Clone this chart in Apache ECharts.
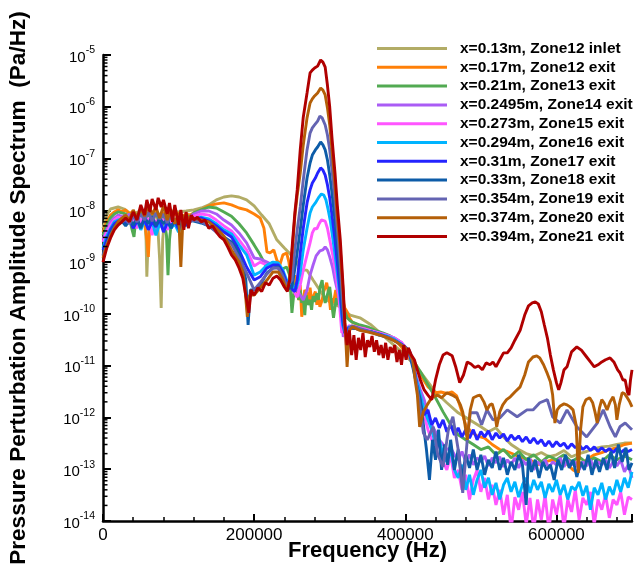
<!DOCTYPE html>
<html>
<head>
<meta charset="utf-8">
<script src="https://cdn.jsdelivr.net/npm/echarts@6/dist/echarts.min.js"></script>
<style>
  html, body { margin: 0; padding: 0; background: #fff; }
  #chart { width: 638px; height: 565px; }
</style>
</head>
<body>
<div id="chart"></div>
<script>
// Pressure perturbation amplitude spectra, [frequency in kHz, amplitude in Pa/Hz]
const zone12Inlet = [[0,4.5e-9],[5,8.1e-9],[10,1.06e-8],[20,1.16e-8],[28,1.06e-8],[35,8.9e-9],[38,6.0e-9],[40,3.8e-9],[42,7.1e-9],[45,9.3e-9],[50,8.9e-9],[55,7.1e-9],[57,2.7e-9],[58,5.2e-10],[60,3.3e-9],[63,8.1e-9],[68,9.3e-9],[72,6.5e-9],[75,1.1e-9],[77,1.3e-10],[79,2.7e-9],[82,8.5e-9],[90,9.7e-9],[100,9.3e-9],[110,9.7e-9],[120,1.02e-8],[130,1.11e-8],[140,1.27e-8],[150,1.59e-8],[160,1.81e-8],[170,1.9e-8],[180,1.81e-8],[190,1.59e-8],[200,1.22e-8],[210,8.1e-9],[220,5.5e-9],[230,2.7e-9],[240,1.88e-9],[250,1.32e-9],[255,1.1e-9],[262,7.0e-10],[270,7.0e-10],[278,4.5e-10],[288,2.7e-10],[296,1.86e-10],[305,1.56e-10],[314,1.37e-10],[327,9.5e-11],[340,8.4e-11],[355,6.1e-11],[370,3.9e-11],[385,2.5e-11],[400,1.6e-11],[420,7.6e-12],[440,3.1e-12],[455,1.92e-12],[470,1.23e-12],[485,9.0e-13],[500,6.6e-13],[510,5.3e-13],[520,6.3e-13],[530,4.2e-13],[540,3.0e-13],[550,2.4e-13],[560,2.0e-13],[570,1.8e-13],[580,2.1e-13],[590,1.74e-13],[600,1.9e-13],[610,2.3e-13],[620,1.74e-13],[630,2.0e-13],[640,2.2e-13],[650,2.5e-13],[660,2.7e-13],[670,2.8e-13],[680,3.0e-13],[690,3.2e-13],[700,3.2e-13]];

const zone12Exit = [[0,3.8e-9],[5,6.0e-9],[10,8.1e-9],[15,9.3e-9],[20,1.02e-8],[25,9.3e-9],[30,1.02e-8],[35,8.5e-9],[40,9.7e-9],[45,7.7e-9],[50,8.9e-9],[55,7.1e-9],[58,2.7e-9],[60,1.26e-9],[62,5.2e-9],[65,8.5e-9],[70,9.3e-9],[75,8.1e-9],[80,8.9e-9],[85,7.7e-9],[90,9.3e-9],[95,8.1e-9],[100,8.9e-9],[105,7.7e-9],[110,8.5e-9],[115,8.1e-9],[120,8.9e-9],[130,1.02e-8],[140,1.22e-8],[150,1.33e-8],[160,1.39e-8],[170,1.27e-8],[180,1.11e-8],[190,1.02e-8],[200,8.5e-9],[208,7.1e-9],[213,4.5e-9],[217,1.57e-9],[221,1.5e-9],[226,1.72e-9],[230,1.1e-9],[234,8.8e-10],[238,1.38e-9],[243,1.5e-9],[246,1.0e-9],[249,4.5e-10],[251,3.3e-10],[254,5.6e-10],[257,2.5e-10],[259,1.86e-10],[261,3.6e-10],[263,8.8e-11],[265,1.86e-10],[267,2.9e-10],[270,2.5e-10],[272,1.5e-10],[274,3.2e-10],[276,1.86e-10],[278,2.1e-10],[281,2.7e-10],[283,1.5e-10],[285,2.3e-10],[287,1.37e-10],[290,1.86e-10],[292,2.7e-10],[294,3.2e-10],[296,4.0e-10],[299,2.3e-10],[301,1.2e-10],[303,2.0e-10],[305,1.63e-10],[308,2.9e-10],[310,2.0e-10],[312,2.7e-10],[314,2.5e-10],[317,1.86e-10],[320,1.3e-10],[323,1.1e-10],[326,8.4e-11],[330,6.9e-11],[340,5.9e-11],[350,5.4e-11],[360,4.7e-11],[370,4.1e-11],[380,3.6e-11],[390,2.8e-11],[400,1.85e-11],[410,1.14e-11],[420,6.6e-12],[430,3.9e-12],[440,3.0e-12],[447,3.1e-12],[455,2.9e-12],[462,3.1e-12],[468,2.6e-12],[474,1.4e-12],[480,7.2e-13],[487,5.3e-13],[495,4.4e-13],[505,4.0e-13],[515,3.0e-13],[525,2.4e-13],[535,2.2e-13],[545,1.9e-13],[555,1.66e-13],[565,1.52e-13],[575,1.22e-13],[585,1.39e-13],[595,1.52e-13],[605,1.39e-13],[615,1.22e-13],[622,9.7e-14],[627,8.9e-14],[632,1.22e-13],[640,1.52e-13],[650,1.9e-13],[660,2.1e-13],[670,2.4e-13],[680,2.6e-13],[690,3.0e-13],[700,3.2e-13]];

const zone13Exit = [[0,3.3e-9],[5,5.2e-9],[10,7.1e-9],[15,8.5e-9],[20,9.3e-9],[25,8.9e-9],[30,8.5e-9],[35,7.1e-9],[38,4.5e-9],[41,3.06e-9],[44,8.1e-9],[50,8.9e-9],[55,6.5e-9],[60,8.1e-9],[65,7.1e-9],[70,8.5e-9],[75,6.5e-9],[80,7.7e-9],[84,3.3e-9],[86,5.6e-10],[88,2.7e-9],[91,7.1e-9],[95,6.0e-9],[100,7.7e-9],[105,7.1e-9],[110,8.1e-9],[115,7.4e-9],[120,8.9e-9],[130,1.02e-8],[140,1.16e-8],[150,1.11e-8],[160,9.3e-9],[170,7.7e-9],[180,5.5e-9],[190,3.66e-9],[200,2.15e-9],[208,1.38e-9],[217,7.7e-10],[225,1.0e-9],[234,7.0e-10],[243,8.05e-10],[247,5.6e-10],[250,1.05e-10],[253,2.9e-10],[255,4.0e-10],[257,3.3e-10],[259,1.86e-10],[261,2.9e-10],[263,1.63e-10],[265,2.1e-10],[267,9.5e-11],[269,2.3e-10],[271,1.5e-10],[274,1.86e-10],[276,1.2e-10],[278,2.2e-10],[280,1.7e-10],[283,2.5e-10],[285,1.86e-10],[287,3.2e-10],[290,4.5e-10],[292,2.3e-10],[294,1.63e-10],[296,1.63e-10],[298,2.7e-10],[300,3.3e-10],[302,1.86e-10],[305,8.4e-11],[307,1.37e-10],[309,2.0e-10],[311,1.5e-10],[314,2.1e-10],[317,1.5e-10],[320,1.1e-10],[323,8.4e-11],[326,7.6e-11],[330,6.9e-11],[340,6.1e-11],[350,5.6e-11],[360,4.8e-11],[370,4.3e-11],[380,3.75e-11],[390,3.1e-11],[400,2.2e-11],[410,1.3e-11],[420,7.6e-12],[430,4.3e-12],[440,2.4e-12],[450,1.28e-12],[460,7.2e-13],[470,4.6e-13],[480,3.7e-13],[490,3.0e-13],[500,2.4e-13],[510,2.7e-13],[520,1.9e-13],[530,2.4e-13],[540,1.66e-13],[550,2.2e-13],[560,1.52e-13],[570,1.9e-13],[580,1.39e-13],[590,1.8e-13],[600,1.52e-13],[610,1.9e-13],[620,1.39e-13],[630,1.74e-13],[640,1.33e-13],[650,1.66e-13],[660,1.39e-13],[670,1.9e-13],[680,1.52e-13],[690,1.8e-13],[700,1.52e-13]];

const zone14Exit = [[0,2.7e-9],[5,4.2e-9],[10,6.0e-9],[15,7.1e-9],[20,8.1e-9],[25,7.7e-9],[30,7.1e-9],[35,8.5e-9],[40,6.5e-9],[45,7.7e-9],[50,6.0e-9],[55,7.4e-9],[60,5.2e-9],[65,7.1e-9],[70,3.8e-9],[75,6.5e-9],[80,6.0e-9],[85,7.1e-9],[90,5.0e-9],[95,6.5e-9],[100,6.0e-9],[105,7.1e-9],[110,6.2e-9],[115,7.4e-9],[120,8.5e-9],[130,9.7e-9],[140,9.7e-9],[150,8.5e-9],[160,6.5e-9],[170,5.2e-9],[180,3.66e-9],[190,2.35e-9],[200,1.2e-9],[208,1.15e-9],[217,1.0e-9],[225,8.8e-10],[232,8.4e-10],[238,6.45e-10],[243,4.1e-10],[248,3.6e-10],[252,2.9e-10],[257,2.9e-10],[261,2.3e-10],[265,1.86e-10],[270,2.9e-10],[274,5.6e-10],[278,8.8e-10],[282,1.32e-9],[287,1.65e-9],[291,1.72e-9],[294,1.97e-9],[297,1.72e-9],[300,1.26e-9],[304,7.7e-10],[307,4.5e-10],[311,2.5e-10],[314,1.5e-10],[318,3.6e-11],[321,4.8e-11],[325,5.4e-11],[335,5.4e-11],[345,5.2e-11],[355,4.7e-11],[365,4.3e-11],[375,3.9e-11],[385,3.45e-11],[395,2.8e-11],[405,1.6e-11],[410,1.04e-11],[415,5.8e-12],[420,3.4e-12],[425,2.2e-12],[430,1.12e-12],[435,7.2e-13],[440,5.3e-13],[445,3.7e-13],[450,3.0e-13],[455,2.4e-13],[460,2.6e-13],[465,1.9e-13],[470,1.52e-13],[475,2.2e-13],[480,1.39e-13],[485,1.9e-13],[490,1.22e-13],[495,1.66e-13],[500,1.39e-13],[505,1.8e-13],[510,1.16e-13],[515,1.66e-13],[520,1.33e-13],[525,1.74e-13],[530,1.11e-13],[535,1.52e-13],[540,1.22e-13],[545,1.66e-13],[550,1.06e-13],[555,1.52e-13],[560,1.22e-13],[565,1.59e-13],[570,9.7e-14],[575,1.39e-13],[580,1.16e-13],[585,1.52e-13],[590,1.06e-13],[595,1.39e-13],[600,1.22e-13],[605,1.66e-13],[610,1.11e-13],[615,1.52e-13],[620,1.22e-13],[625,1.39e-13],[630,9.7e-14],[635,1.39e-13],[640,1.16e-13],[645,1.52e-13],[650,1.06e-13],[655,1.39e-13],[660,1.22e-13],[665,1.52e-13],[670,1.06e-13],[675,1.39e-13],[680,1.16e-13],[685,1.52e-13],[690,8.9e-14],[695,1.22e-13],[700,6.8e-14]];

const zone15Exit = [[0,2.45e-9],[5,3.8e-9],[10,5.2e-9],[15,6.5e-9],[20,7.4e-9],[25,7.1e-9],[30,8.1e-9],[35,6.0e-9],[40,7.4e-9],[45,4.5e-9],[50,6.8e-9],[55,5.5e-9],[60,7.1e-9],[65,3.3e-9],[70,6.5e-9],[75,5.0e-9],[80,6.8e-9],[85,4.2e-9],[90,6.2e-9],[95,5.2e-9],[100,6.5e-9],[105,5.5e-9],[110,7.1e-9],[115,6.5e-9],[120,7.7e-9],[130,8.5e-9],[140,8.1e-9],[150,6.5e-9],[160,5.0e-9],[170,4.0e-9],[180,2.7e-9],[190,1.72e-9],[200,8.4e-10],[208,1.0e-9],[217,8.8e-10],[225,8.05e-10],[232,7.7e-10],[238,6.2e-10],[243,4.1e-10],[247,3.6e-10],[251,3.6e-10],[254,2.5e-10],[257,2.1e-10],[261,3.6e-10],[265,7.0e-10],[270,1.38e-9],[274,2.35e-9],[277,3.66e-9],[280,4.5e-9],[283,4.37e-9],[286,5.5e-9],[289,6.5e-9],[291,6.8e-9],[294,6.2e-9],[297,4.5e-9],[300,2.7e-9],[304,1.38e-9],[308,6.2e-10],[312,2.3e-10],[316,4.3e-11],[319,5.4e-11],[322,2.5e-11],[325,5.9e-11],[335,5.6e-11],[345,5.2e-11],[355,4.7e-11],[365,4.3e-11],[375,3.9e-11],[385,3.45e-11],[395,2.8e-11],[405,1.85e-11],[410,1.04e-11],[415,5.3e-12],[420,2.2e-12],[425,1.12e-12],[430,5.8e-13],[435,3.7e-13],[440,2.4e-13],[445,3.0e-13],[450,1.39e-13],[455,9.7e-14],[460,1.9e-13],[465,6.8e-14],[470,9.7e-14],[475,4.0e-14],[480,7.8e-14],[485,2.6e-14],[490,6.2e-14],[495,9.7e-14],[500,3.66e-14],[505,6.8e-14],[510,2.6e-14],[515,5.0e-14],[520,2.05e-14],[525,4.0e-14],[530,1.32e-14],[535,3.2e-14],[540,6.7e-15],[545,2.9e-14],[550,1.65e-14],[555,3.66e-14],[560,8.4e-15],[565,2.8e-14],[570,6.7e-15],[575,2.6e-14],[580,1.05e-14],[585,3.2e-14],[590,6.7e-15],[595,2.6e-14],[600,1.32e-14],[605,3.2e-14],[610,7.3e-15],[615,2.6e-14],[620,1.5e-14],[625,4.0e-14],[630,1.05e-14],[635,2.8e-14],[640,2.05e-14],[645,3.66e-14],[650,8.4e-15],[655,2.6e-14],[660,1.65e-14],[665,3.2e-14],[670,1.15e-14],[675,2.6e-14],[680,2.05e-14],[685,3.66e-14],[690,1.32e-14],[695,2.9e-14],[700,2.6e-14]];

const zone16Exit = [[0,1.88e-9],[5,3.2e-9],[10,4.5e-9],[15,6.0e-9],[20,6.5e-9],[25,6.8e-9],[30,6.0e-9],[35,7.1e-9],[40,5.0e-9],[45,6.5e-9],[50,4.2e-9],[55,6.2e-9],[60,4.5e-9],[65,6.0e-9],[70,3.3e-9],[75,5.5e-9],[80,4.2e-9],[85,6.0e-9],[90,4.5e-9],[95,5.5e-9],[100,3.8e-9],[105,5.7e-9],[110,5.0e-9],[115,6.2e-9],[120,6.8e-9],[130,7.4e-9],[140,6.8e-9],[150,5.5e-9],[160,4.2e-9],[170,3.5e-9],[180,2.15e-9],[190,1.38e-9],[200,5.6e-10],[208,6.45e-10],[217,8.8e-10],[225,1.0e-9],[232,9.6e-10],[238,7.0e-10],[243,4.5e-10],[247,4.1e-10],[251,3.6e-10],[254,2.9e-10],[257,3.6e-10],[261,6.2e-10],[265,1.72e-9],[270,4.5e-9],[274,8.9e-9],[277,1.16e-8],[281,1.39e-8],[285,1.74e-8],[289,2.07e-8],[292,1.98e-8],[295,1.59e-8],[298,1.02e-8],[301,6.0e-9],[304,2.93e-9],[307,1.38e-9],[310,6.2e-10],[314,1.86e-10],[317,6.1e-11],[320,4.3e-11],[325,5.6e-11],[335,5.4e-11],[345,4.8e-11],[355,4.5e-11],[365,4.1e-11],[375,3.75e-11],[385,3.3e-11],[395,2.6e-11],[405,1.85e-11],[410,1.04e-11],[415,5.3e-12],[420,2.7e-12],[425,1.4e-12],[430,9.0e-13],[435,5.8e-13],[440,3.0e-13],[445,3.7e-13],[450,1.9e-13],[455,1.39e-13],[460,2.4e-13],[465,9.7e-14],[470,6.8e-14],[475,1.22e-13],[480,4.0e-14],[485,7.8e-14],[490,3.2e-14],[495,6.2e-14],[500,9.7e-14],[505,4.4e-14],[510,6.8e-14],[515,3.2e-14],[520,5.45e-14],[525,2.6e-14],[530,5.0e-14],[535,6.8e-14],[540,3.66e-14],[545,5.7e-14],[550,2.9e-14],[555,5.0e-14],[560,6.8e-14],[565,3.5e-14],[570,6.2e-14],[575,4.0e-14],[580,5.7e-14],[585,2.8e-14],[590,5.2e-14],[595,3.66e-14],[600,6.2e-14],[605,3.2e-14],[610,5.0e-14],[615,2.6e-14],[620,4.6e-14],[625,4.0e-14],[630,5.7e-14],[635,3.06e-14],[640,4.8e-14],[645,1.65e-14],[650,4.4e-14],[655,3.2e-14],[660,5.45e-14],[665,2.6e-14],[670,4.6e-14],[675,3.2e-14],[680,6.2e-14],[685,3.66e-14],[690,6.8e-14],[695,4.4e-14],[700,8.9e-14]];

const zone17Exit = [[0,1.72e-9],[5,2.7e-9],[10,4.2e-9],[15,5.5e-9],[20,6.2e-9],[25,6.5e-9],[30,5.5e-9],[35,6.8e-9],[40,4.5e-9],[45,6.2e-9],[50,5.0e-9],[55,6.5e-9],[60,4.2e-9],[65,6.0e-9],[70,4.77e-9],[75,6.8e-9],[80,3.8e-9],[85,5.7e-9],[90,5.0e-9],[95,6.2e-9],[100,4.37e-9],[105,6.0e-9],[110,5.2e-9],[115,6.5e-9],[120,6.8e-9],[130,7.1e-9],[140,6.2e-9],[150,5.0e-9],[160,3.8e-9],[170,3.06e-9],[180,1.72e-9],[190,8.05e-10],[200,4.5e-10],[208,5.2e-10],[217,7.7e-10],[225,8.8e-10],[232,8.8e-10],[238,6.45e-10],[243,4.0e-10],[247,3.47e-10],[251,2.9e-10],[254,2.7e-10],[257,4.5e-10],[261,1.5e-9],[265,4.5e-9],[270,1.39e-8],[274,2.48e-8],[277,3.38e-8],[281,4.2e-8],[284,5.26e-8],[288,6.6e-8],[291,6.0e-8],[294,4.8e-8],[297,3.1e-8],[300,1.74e-8],[303,8.1e-9],[307,2.7e-9],[310,1.0e-9],[314,2.5e-10],[317,7.6e-11],[320,4.3e-11],[325,5.4e-11],[335,5.2e-11],[345,4.8e-11],[355,4.5e-11],[365,4.1e-11],[375,3.6e-11],[385,3.1e-11],[395,2.6e-11],[405,2.0e-11],[410,1.3e-11],[415,4.3e-12],[420,1.75e-12],[425,1.12e-12],[430,1.4e-12],[435,7.2e-13],[440,9.8e-13],[445,6.3e-13],[450,9.0e-13],[455,5.3e-13],[460,7.2e-13],[465,4.6e-13],[470,6.3e-13],[475,4.2e-13],[480,5.8e-13],[485,4.0e-13],[490,5.8e-13],[495,3.7e-13],[500,5.3e-13],[505,4.2e-13],[510,5.5e-13],[515,3.7e-13],[520,5.0e-13],[525,4.0e-13],[530,4.8e-13],[535,3.5e-13],[540,4.6e-13],[545,3.7e-13],[550,4.4e-13],[555,3.4e-13],[560,4.2e-13],[565,3.2e-13],[570,4.0e-13],[575,3.1e-13],[580,3.7e-13],[585,2.8e-13],[590,3.5e-13],[595,2.7e-13],[600,3.4e-13],[605,2.8e-13],[610,3.2e-13],[615,2.5e-13],[620,3.1e-13],[625,2.6e-13],[630,3.0e-13],[635,2.4e-13],[640,2.8e-13],[645,2.3e-13],[650,2.7e-13],[655,2.2e-13],[660,2.6e-13],[665,2.2e-13],[670,2.5e-13],[675,2.1e-13],[680,2.5e-13],[685,2.1e-13],[690,2.4e-13],[695,2.2e-13],[700,2.4e-13]];

const zone18Exit = [[0,1.38e-9],[5,2.35e-9],[10,3.66e-9],[15,5.0e-9],[20,5.7e-9],[25,6.2e-9],[30,5.0e-9],[35,6.5e-9],[40,5.2e-9],[45,7.1e-9],[50,4.5e-9],[55,7.4e-9],[60,5.5e-9],[65,7.7e-9],[70,5.0e-9],[75,7.1e-9],[80,5.5e-9],[85,6.8e-9],[90,4.5e-9],[95,6.5e-9],[100,5.0e-9],[105,6.2e-9],[110,5.7e-9],[115,6.5e-9],[120,6.2e-9],[130,5.7e-9],[140,5.0e-9],[150,4.0e-9],[160,3.06e-9],[170,2.45e-9],[175,1.97e-9],[180,1.38e-9],[185,8.8e-10],[189,4.5e-10],[192,6.1e-11],[195,2.9e-10],[200,2.9e-10],[208,3.6e-10],[217,6.2e-10],[225,7.7e-10],[232,8.05e-10],[238,5.6e-10],[243,2.9e-10],[247,3.2e-10],[250,3.3e-10],[254,7.7e-10],[257,1.57e-9],[261,4.2e-9],[265,1.27e-8],[270,4.2e-8],[274,8.2e-8],[277,1.17e-7],[281,1.47e-7],[284,1.67e-7],[288,2.09e-7],[291,1.83e-7],[294,1.47e-7],[297,9.4e-8],[300,4.8e-8],[303,2.17e-8],[307,6.5e-9],[310,2.15e-9],[314,4.5e-10],[317,1.2e-10],[320,4.5e-11],[323,3.1e-11],[327,5.4e-11],[335,5.2e-11],[345,4.7e-11],[355,4.5e-11],[365,3.9e-11],[375,3.6e-11],[385,3.1e-11],[395,2.5e-11],[405,1.85e-11],[410,9.2e-12],[415,4.3e-12],[420,2.2e-12],[424,7.2e-13],[428,2.4e-13],[432,6.2e-14],[436,3.7e-13],[440,1.52e-13],[444,5.8e-13],[448,9.7e-14],[452,3.0e-13],[456,1.22e-13],[460,3.7e-13],[465,9.7e-14],[470,2.4e-13],[475,6.2e-14],[480,1.9e-13],[485,1.06e-13],[490,2.4e-13],[495,9.7e-14],[500,1.9e-13],[505,7.8e-14],[510,1.52e-13],[515,1.06e-13],[520,2.2e-13],[525,9.7e-14],[530,1.66e-13],[535,7.8e-14],[540,1.39e-13],[545,9.7e-14],[550,1.9e-13],[555,1.22e-13],[560,2.05e-14],[563,1.66e-13],[567,8.9e-14],[572,1.52e-13],[577,6.8e-14],[582,1.39e-13],[587,9.7e-14],[592,1.22e-13],[597,6.2e-14],[602,1.52e-13],[607,9.7e-14],[612,1.9e-13],[617,1.06e-13],[622,1.52e-13],[627,7.1e-14],[632,1.39e-13],[637,9.7e-14],[642,1.9e-13],[647,7.8e-14],[652,1.52e-13],[657,8.9e-14],[662,1.66e-13],[667,9.7e-14],[672,2.2e-13],[677,1.06e-13],[682,3.0e-13],[687,1.39e-13],[692,2.6e-13],[696,9.7e-14],[700,1.33e-13]];

const zone19Exit = [[0,1.32e-9],[5,2.15e-9],[10,3.3e-9],[15,4.5e-9],[20,5.5e-9],[25,6.0e-9],[30,6.5e-9],[35,5.5e-9],[40,7.7e-9],[45,6.0e-9],[50,8.5e-9],[55,6.5e-9],[60,9.3e-9],[65,6.2e-9],[70,8.9e-9],[75,6.8e-9],[80,8.5e-9],[85,5.7e-9],[90,8.1e-9],[95,6.0e-9],[100,7.1e-9],[105,5.5e-9],[110,6.8e-9],[115,6.0e-9],[120,6.5e-9],[130,6.0e-9],[140,5.0e-9],[150,3.8e-9],[160,2.93e-9],[170,2.25e-9],[180,1.2e-9],[190,6.2e-10],[200,2.9e-10],[208,4.0e-10],[217,5.9e-10],[225,7.7e-10],[232,7.7e-10],[238,5.4e-10],[243,3.6e-10],[247,4.0e-10],[250,4.5e-10],[253,1.38e-9],[257,4.2e-9],[261,1.16e-8],[265,3.86e-8],[270,1.47e-7],[274,3.1e-7],[277,3.9e-7],[280,4.45e-7],[284,5.3e-7],[287,6.6e-7],[290,6.1e-7],[294,4.45e-7],[297,2.85e-7],[300,1.47e-7],[303,6.0e-8],[307,1.59e-8],[310,4.5e-9],[314,8.8e-10],[317,1.86e-10],[320,4.8e-11],[323,2.5e-11],[326,5.4e-11],[330,5.9e-11],[340,5.2e-11],[350,4.7e-11],[360,4.3e-11],[370,3.75e-11],[380,3.45e-11],[390,2.8e-11],[400,2.3e-11],[405,1.85e-11],[410,1.18e-11],[415,4.3e-12],[420,1.4e-12],[424,5.0e-13],[429,3.7e-13],[437,6.6e-13],[443,1.9e-13],[450,1.11e-13],[457,5.8e-13],[463,1.03e-12],[470,2.4e-13],[476,3.5e-14],[482,3.7e-13],[486,1.23e-12],[495,1.23e-12],[501,7.2e-13],[508,1.4e-12],[516,9.0e-13],[525,9.8e-13],[535,1.4e-12],[548,1.03e-12],[561,1.4e-12],[569,1.4e-12],[578,1.92e-12],[588,2.2e-12],[595,1.03e-12],[605,7.8e-13],[614,1.4e-12],[627,6.6e-13],[640,4.2e-13],[654,7.8e-13],[662,1.4e-12],[671,6.6e-13],[678,4.2e-13],[684,6.6e-13],[691,7.8e-13],[700,5.8e-13]];

const zone20Exit = [[0,1.2e-9],[5,2.05e-9],[10,3.2e-9],[15,4.5e-9],[20,6.0e-9],[25,7.1e-9],[30,8.1e-9],[35,6.5e-9],[40,1.02e-8],[45,7.1e-9],[50,1.11e-8],[55,7.7e-9],[60,1.27e-8],[65,8.5e-9],[70,1.16e-8],[75,7.1e-9],[80,1.22e-8],[85,6.5e-9],[90,1.02e-8],[95,5.5e-9],[100,8.9e-9],[103,8.05e-10],[106,8.1e-9],[110,6.0e-9],[115,7.7e-9],[120,7.1e-9],[130,6.5e-9],[140,6.0e-9],[150,4.5e-9],[160,3.2e-9],[170,1.72e-9],[180,1.0e-9],[185,6.45e-10],[188,2.9e-10],[191,8.8e-11],[194,2.3e-10],[200,2.3e-10],[208,3.2e-10],[217,4.5e-10],[225,6.45e-10],[232,6.45e-10],[238,4.5e-10],[243,2.9e-10],[247,4.5e-10],[251,2.15e-9],[254,8.1e-9],[257,1.98e-8],[261,5.26e-8],[265,1.83e-7],[270,6.1e-7],[274,1.18e-6],[277,1.42e-6],[280,1.62e-6],[284,1.85e-6],[288,2.3e-6],[291,2.1e-6],[294,1.69e-6],[297,9.5e-7],[300,4.45e-7],[303,1.47e-7],[307,3.1e-8],[310,8.1e-9],[314,1.72e-9],[318,2.3e-10],[321,3.9e-11],[323,9.5e-12],[326,4.8e-11],[330,5.6e-11],[340,4.8e-11],[350,4.5e-11],[360,4.1e-11],[370,3.75e-11],[380,3.3e-11],[390,2.76e-11],[400,2.2e-11],[405,1.85e-11],[410,1.3e-11],[413,5.3e-12],[416,2.7e-12],[419,6.6e-13],[424,1.28e-12],[429,1.75e-12],[435,2.4e-12],[442,2.7e-12],[448,2.4e-12],[455,3.0e-12],[462,2.7e-12],[468,2.4e-12],[473,1.75e-12],[476,1.28e-12],[479,7.2e-13],[482,3.7e-13],[486,1.4e-12],[490,2.4e-12],[495,2.6e-12],[499,2.7e-12],[504,2.0e-12],[508,1.4e-12],[512,1.75e-12],[515,1.83e-12],[518,1.28e-12],[521,6.6e-13],[525,1.28e-12],[529,1.75e-12],[534,2.2e-12],[539,2.5e-12],[545,3.1e-12],[552,3.9e-12],[558,6.6e-12],[563,1.18e-11],[569,1.47e-11],[574,1.55e-11],[578,1.41e-11],[583,1.04e-11],[588,7.0e-12],[592,4.9e-12],[595,2.7e-12],[598,7.8e-13],[601,1.4e-12],[605,1.67e-12],[610,1.83e-12],[614,1.75e-12],[618,1.6e-12],[622,1.4e-12],[626,7.2e-13],[629,8.5e-14],[632,5.8e-13],[635,1.6e-12],[639,2.2e-12],[644,2.4e-12],[648,1.92e-12],[651,1.28e-12],[654,7.8e-13],[657,1.53e-12],[660,2.2e-12],[663,1.92e-12],[667,1.4e-12],[671,2.0e-12],[675,2.5e-12],[678,1.75e-12],[680,9.0e-13],[683,1.75e-12],[687,3.0e-12],[690,2.9e-12],[693,2.5e-12],[697,2.0e-12],[700,1.6e-12]];

const zone21Exit = [[0,1.0e-9],[5,1.88e-9],[10,2.93e-9],[15,4.2e-9],[20,5.2e-9],[25,6.0e-9],[30,7.1e-9],[35,6.0e-9],[40,9.3e-9],[45,6.5e-9],[50,1.27e-8],[55,8.1e-9],[58,1.59e-8],[62,9.3e-9],[65,1.66e-8],[70,1.02e-8],[73,1.74e-8],[77,1.16e-8],[80,1.59e-8],[85,8.5e-9],[88,1.39e-8],[92,6.0e-9],[95,1.27e-8],[100,5.2e-9],[103,1.02e-8],[107,4.2e-9],[110,9.3e-9],[113,4.5e-9],[117,8.1e-9],[120,6.5e-9],[125,7.4e-9],[130,6.0e-9],[135,6.5e-9],[140,4.5e-9],[145,5.0e-9],[150,3.8e-9],[155,3.06e-9],[160,2.7e-9],[165,1.97e-9],[170,1.38e-9],[175,1.1e-9],[180,7.7e-10],[185,4.9e-10],[190,1.86e-10],[193,1.05e-10],[196,2.9e-10],[200,2.3e-10],[205,3.2e-10],[210,2.7e-10],[215,4.0e-10],[220,3.6e-10],[225,4.9e-10],[230,5.4e-10],[235,4.5e-10],[240,3.3e-10],[244,2.7e-10],[247,4.5e-10],[251,2.7e-9],[254,9.3e-9],[257,2.48e-8],[261,1.47e-7],[265,6.3e-7],[270,1.85e-6],[274,4.5e-6],[277,5.1e-6],[280,5.6e-6],[284,6.1e-6],[288,8.0e-6],[291,7.3e-6],[294,5.85e-6],[297,2.6e-6],[300,9.9e-7],[303,2.5e-7],[307,5.26e-8],[310,1.27e-8],[314,2.7e-9],[318,2.9e-10],[320,6.7e-11],[323,2.5e-11],[326,4.8e-11],[329,1.6e-11],[332,3.9e-11],[335,1.3e-11],[338,3.45e-11],[341,2.0e-11],[344,4.3e-11],[347,1.47e-11],[350,3.1e-11],[353,2.3e-11],[356,3.75e-11],[359,1.85e-11],[362,3.1e-11],[365,1.6e-11],[368,2.5e-11],[371,1.41e-11],[374,2.76e-11],[377,1.3e-11],[380,2.3e-11],[383,1.77e-11],[386,2.5e-11],[389,1.18e-11],[392,2.0e-11],[395,1.04e-11],[398,2.5e-11],[401,1.3e-11],[404,2.2e-11],[408,1.6e-11],[412,1.3e-11],[416,8.3e-12],[420,5.3e-12],[425,3.4e-12],[430,2.7e-12],[435,2.2e-12],[440,5.3e-12],[445,1.04e-11],[450,1.6e-11],[455,1.77e-11],[462,1.55e-11],[467,9.2e-12],[472,4.7e-12],[477,6.6e-12],[482,1.18e-11],[487,1.08e-11],[492,9.2e-12],[497,9.9e-12],[502,8.3e-12],[507,1.13e-11],[512,1.04e-11],[516,1.18e-11],[520,9.5e-12],[525,1.3e-11],[530,1.77e-11],[535,1.77e-11],[540,2.2e-11],[545,3.1e-11],[552,4.8e-11],[558,9.5e-11],[563,1.43e-10],[568,1.63e-10],[572,1.7e-10],[576,1.56e-10],[580,1.1e-10],[584,6.1e-11],[588,3.45e-11],[592,1.6e-11],[596,8.3e-12],[600,4.7e-12],[603,3.4e-12],[606,4.7e-12],[610,8.3e-12],[614,9.5e-12],[620,1.85e-11],[627,2.3e-11],[633,2.0e-11],[640,1.47e-11],[645,1.18e-11],[650,9.5e-12],[655,1.04e-11],[660,1.18e-11],[665,1.3e-11],[671,1.41e-11],[676,1.18e-11],[681,8.3e-12],[684,7.3e-12],[688,5.3e-12],[691,5.3e-12],[694,3.1e-12],[696,2.7e-12],[698,5.3e-12],[700,8.3e-12]];

const seriesNames = [
  'x=0.13m, Zone12 inlet', 'x=0.17m, Zone12 exit', 'x=0.21m, Zone13 exit',
  'x=0.2495m, Zone14 exit', 'x=0.273m, Zone15 exit', 'x=0.294m, Zone16 exit',
  'x=0.31m, Zone17 exit', 'x=0.33m, Zone18 exit', 'x=0.354m, Zone19 exit',
  'x=0.374m, Zone20 exit', 'x=0.394m, Zone21 exit'
];
const seriesData = [zone12Inlet, zone12Exit, zone13Exit, zone14Exit, zone15Exit, zone16Exit,
  zone17Exit, zone18Exit, zone19Exit, zone20Exit, zone21Exit];
const seriesColors = ['#b2ac66', '#ff8008', '#52aa52', '#aa5cf5', '#ff55ff', '#00b4ff',
  '#2424ff', '#0d5ca8', '#6464b2', '#b45f08', '#b00000'];

const xTicks = [0, 200000, 400000, 600000];
const yDecades = [-14, -13, -12, -11, -10, -9, -8, -7, -6, -5];

const FONT = '"Liberation Sans", Arial, Helvetica, sans-serif';

// minor log ticks (2..9 within each decade) along the left axis
const minorLogTicks = [];
for (let i = 0; i < yDecades.length - 1; i++) {
  for (let k = 2; k <= 9; k++) minorLogTicks.push([0, k * Math.pow(10, yDecades[i])]);
}

const lineSeries = seriesData.map((pts, i) => ({
  name: seriesNames[i],
  type: 'line',
  data: pts.map(p => [p[0] * 1000, p[1]]),
  showSymbol: false,
  symbol: 'none',
  smooth: false,
  color: seriesColors[i],
  lineStyle: { width: 2.9, color: seriesColors[i] },
  emphasis: { disabled: true },
  z: 2
}));

const tickSeries = {
  type: 'custom',
  name: 'minorTicks',
  data: minorLogTicks,
  silent: true,
  clip: false,
  z: 10,
  renderItem: function (params, api) {
    const p = api.coord([api.value(0), api.value(1)]);
    return {
      type: 'line',
      shape: { x1: p[0], y1: p[1], x2: p[0] + 4.5, y2: p[1] },
      style: { stroke: '#000', lineWidth: 1.5 }
    };
  }
};

const chart = echarts.init(document.getElementById('chart'), null, { renderer: 'canvas' });
chart.setOption({
  animation: false,
  backgroundColor: '#ffffff',
  textStyle: { fontFamily: FONT },
  grid: { left: 103, right: 6, top: 55, bottom: 44, containLabel: false, outerBoundsMode: 'none' },
  legend: {
    data: seriesNames,
    orient: 'vertical',
    left: 377,
    top: 40,
    padding: 0,
    itemWidth: 70,
    itemHeight: 17,
    itemGap: 1.8,
    selectedMode: false,
    icon: 'path://M0,0 L70,0 L70,3 L0,3 Z',
    textStyle: { fontFamily: FONT, fontSize: 15.5, fontWeight: 'bold', color: '#000', padding: [0, 0, 0, 8], lineHeight: 17 }
  },
  xAxis: {
    type: 'value',
    min: 0,
    max: 700000,
    interval: 200000,
    name: 'Frequency (Hz)',
    nameLocation: 'middle',
    nameGap: 19,
    nameMoveOverlap: false,
    nameTextStyle: { fontFamily: FONT, fontSize: 22, fontWeight: 'bold', color: '#000' },
    axisLine: { onZero: false, lineStyle: { color: '#000', width: 2.5 } },
    axisTick: { inside: true, length: 7, lineStyle: { color: '#000', width: 2 } },
    minorTick: { show: true, splitNumber: 5, length: 4, lineStyle: { color: '#000', width: 1.5 } },
    axisLabel: {
      fontFamily: FONT, fontSize: 17, color: '#000', margin: 6,
      showMaxLabel: false,
      formatter: v => (xTicks.indexOf(v) >= 0 ? String(v) : '')
    },
    splitLine: { show: false },
    minorSplitLine: { show: false }
  },
  yAxis: {
    type: 'log',
    logBase: 10,
    min: 1e-14,
    max: 1e-5,
    splitNumber: 9,
    name: 'Pressure Perturbation Amplitude Spectrum  (Pa/Hz)',
    nameLocation: 'middle',
    nameGap: 73,
    nameMoveOverlap: false,
    nameTextStyle: { fontFamily: FONT, fontSize: 22.6, fontWeight: 'bold', color: '#000' },
    axisLine: { lineStyle: { color: '#000', width: 2.5 } },
    axisTick: { inside: true, length: 8, lineStyle: { color: '#000', width: 2 } },
    minorTick: { show: false },
    axisLabel: {
      margin: 8,
      color: '#000',
      formatter: function (v) {
        const e = Math.round(Math.log10(v));
        return '{b|10}{s|' + e + '}';
      },
      rich: {
        b: { fontFamily: FONT, fontSize: 15, color: '#000', lineHeight: 20, verticalAlign: 'bottom' },
        s: { fontFamily: FONT, fontSize: 10.5, color: '#000', lineHeight: 20, verticalAlign: 'top' }
      }
    },
    splitLine: { show: false }
  },
  series: lineSeries.concat([tickSeries])
});
</script>
</body>
</html>
